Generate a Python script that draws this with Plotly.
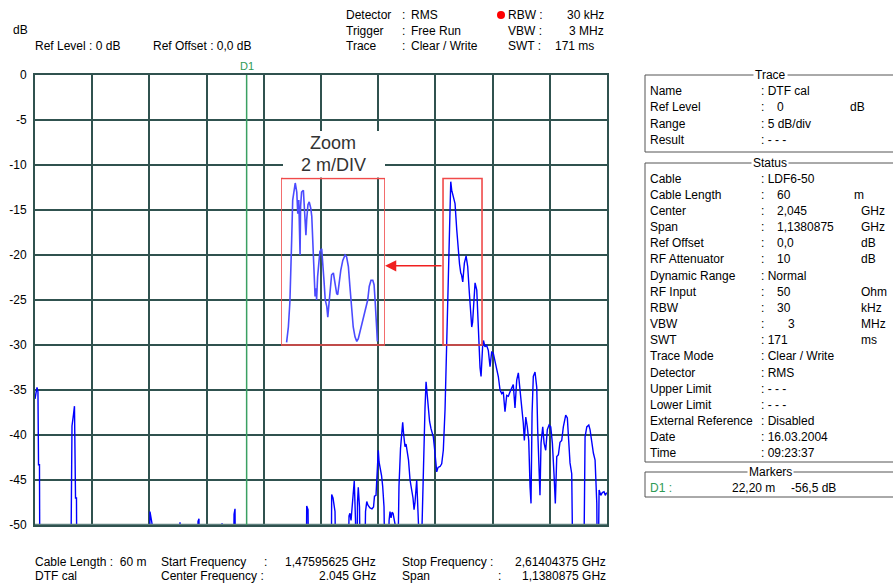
import plotly.graph_objects as go

# ---------------- data ----------------
# DTF trace: distance (m) vs. return level (dB); -60 means below the -50 dB screen floor
dist_m = [
    0.00, 0.10, 0.21, 0.31, 0.37, 0.47, 0.52,
    3.72, 3.78, 3.88, 4.04, 4.14, 4.25, 4.35, 4.41,
    12.01, 12.06, 12.17, 12.27, 12.38,
    15.11, 15.21, 15.32,
    17.00, 17.10, 17.20, 17.30,
    19.51, 19.62, 19.72,
    20.77, 20.88, 20.98, 21.08,
    28.43, 28.50, 28.64, 28.74,
    31.05, 31.12, 31.26, 31.47, 31.63,
    32.73, 32.94, 33.04, 33.15, 33.36, 33.49, 33.62, 33.72, 33.83, 33.91, 34.04, 34.17,
    34.51, 34.67, 34.80, 34.93, 35.14, 35.35, 35.51, 35.61, 35.77, 35.88, 36.01, 36.09,
    36.19, 36.35, 36.47, 36.61, 36.77,
    37.03, 37.14, 37.24, 37.35, 37.45, 37.56, 37.71, 37.87, 37.98, 38.08, 38.18, 38.34,
    38.57, 38.66, 38.81, 38.92, 39.05, 39.18, 39.34, 39.49, 39.65, 39.76, 39.86, 40.04,
    40.12, 40.23, 40.31,
    40.49, 40.60, 40.67, 40.75, 40.81, 40.91, 41.02, 41.12, 41.26, 41.39, 41.54, 41.78,
    41.91, 42.07, 42.14, 42.28, 42.49, 42.66, 42.83, 43.01, 43.11, 43.22, 43.35, 43.46,
    43.53, 43.61, 43.71, 43.80, 43.88, 44.06, 44.24, 44.41, 44.53, 44.66, 44.74, 44.87,
    44.95, 45.04, 45.22, 45.39, 45.56, 45.71, 45.81, 45.90, 45.98, 46.16, 46.34, 46.42,
    46.51, 46.61, 46.68, 46.79, 46.89, 46.96, 47.04, 47.20, 47.36, 47.55, 47.73, 47.90,
    48.07, 48.19, 48.36, 48.60, 48.78, 48.96, 49.12, 49.30, 49.48, 49.65, 49.83, 50.01,
    50.17, 50.35, 50.53, 50.70, 50.88, 51.06, 51.22, 51.33, 51.48, 51.64, 51.79, 51.93,
    52.03, 52.14, 52.27, 52.45, 52.63, 52.73, 52.87, 52.97, 53.08, 53.26, 53.40, 53.57,
    53.74, 53.92, 54.10, 54.27, 54.44, 54.58, 54.73, 54.90, 55.07, 55.25, 55.42, 55.67,
    55.84, 55.99, 56.12, 56.30, 56.47,
    57.52, 57.70, 57.88, 58.09, 58.22, 58.40, 58.57, 58.75, 58.93, 59.03, 59.17, 59.35,
    59.51, 59.69, 59.82, 59.97,
]
level_db = [
    -36, -35.5, -34.7, -35.2, -43.3, -43.3, -60,
    -60, -46, -39, -37.7, -36.8, -47, -47, -60,
    -60, -48.5, -49, -49.8, -60,
    -60, -49.7, -60,
    -60, -49.6, -49.3, -60,
    -60, -49.8, -60,
    -60, -48.8, -48.2, -60,
    -60, -47.9, -48.3, -60,
    -60, -46.6, -47.0, -48.5, -60,
    -60, -49.0, -48.7, -49.5, -47.0, -45.1, -49.5, -60, -47.5, -45.8, -48, -60,
    -60, -48.5, -47.4, -47.8, -48.1, -48.2, -48.0, -46.8, -46.7, -43.5, -41.7, -43.0,
    -43.5, -44.5, -45.7, -48, -60,
    -60, -49.5, -48.5, -49.2, -48.6, -48.7, -49.8, -50.5, -60, -50, -45.7, -41.5,
    -38.6, -39.8, -41.3, -41.0, -41.7, -42.8, -45, -46, -47, -48.3, -47.5, -45,
    -46.5, -50, -60,
    -60, -50, -47.2, -44, -38.7, -37.0, -34.1, -35.5, -37.6, -38.5, -39.3, -40.2,
    -41.5, -43.8, -44.1, -43.6, -43.5, -43.2, -41.7, -37.2, -32.4, -27, -21.7, -15.4,
    -12, -11.85, -12.8, -13.2, -13.5, -14.3, -17.2, -19.8, -21.0, -22, -22.2, -23,
    -22.2, -20.9, -20.1, -21.3, -24.2, -26.5, -28, -27.5, -26.1, -23.1, -23.9, -26,
    -29.1, -31.7, -32.5, -33.5, -31, -30, -29.5, -30.2, -30.0, -30.6, -32.4, -30.8,
    -30.9, -31.5, -32.4, -33.5, -35, -35.4, -35.2, -37.4, -35.6, -35.7, -35.2, -34.8,
    -34.4, -37, -33.9, -33.1, -34.8, -36.9, -38.7, -40.6, -38, -39.1, -40.6, -45.8,
    -47.6, -37.6, -33.5, -33, -34.7, -39.4, -44.3, -46.7, -40.9, -39.1, -40.9, -41.7,
    -39.4, -38.9, -39.1, -40.9, -44.3, -47.6, -42.4, -42.2, -40.8, -40.6, -39.1, -37.8,
    -38.1, -40.2, -43.1, -44.3, -60,
    -60, -40.2, -39.1, -38.9, -39.4, -40.9, -42, -42.8, -47.6, -60, -46.1, -46.7,
    -46.4, -46.3, -46.7, -46.4,
]

# Zoomed view (2 m/DIV) of the 42.8 m .. 46.9 m section
zoom_dist_m = [
    43.02, 43.09, 43.15, 43.19, 43.22, 43.26, 43.31, 43.36, 43.42, 43.46, 43.50, 43.52,
    43.55, 43.57, 43.61, 43.68, 43.72, 43.76, 43.78, 43.81, 43.86, 43.91, 43.97, 44.01,
    44.05, 44.09, 44.11, 44.14, 44.18, 44.20, 44.24, 44.29, 44.33, 44.40, 44.44, 44.49,
    44.54, 44.60, 44.64, 44.69, 44.73, 44.79, 44.86, 44.92, 44.99, 45.03, 45.07, 45.15,
    45.23, 45.32, 45.38, 45.45, 45.51, 45.58, 45.64, 45.71, 45.78, 45.84, 45.91, 45.97,
    46.06, 46.14, 46.21, 46.27, 46.34, 46.41, 46.46, 46.50, 46.54, 46.56, 46.59,
]
zoom_level_db = [
    -29.7, -28, -25.2, -22.4, -18.3, -13.9, -12.6, -12.0, -13, -15.4, -13.9, -16.5,
    -20, -14.6, -13, -12.8, -15, -16.9, -17.8, -16.1, -14.4, -14.1, -14.8, -15.7,
    -18.7, -19.8, -21.7, -24.6, -23.7, -25, -22.4, -20.9, -19.6, -19.3, -20.6, -22.8,
    -25, -25.7, -26.9, -25.2, -23.9, -22.2, -22, -23.1, -24.3, -24.4, -23.3, -21.7,
    -20.6, -20, -20.2, -21.3, -23.5, -26.1, -28, -29.1, -29.6, -29.3, -28.5, -27.6,
    -26.5, -25.7, -25, -23.5, -22.8, -22.8, -23.3, -25, -26.5, -28, -29.6,
]
assert len(dist_m) == len(level_db)
assert len(zoom_dist_m) == len(zoom_level_db)

zoom_range_m = [42.80, 46.89]
zoom_range_db = [-30, -11.5]
marker_d1_m = 22.2
arrow_level_db = -21.2

y_ticks = [0, -5, -10, -15, -20, -25, -30, -35, -40, -45, -50]
y_ticktext = ["0", "-5", "-10", "-15", "-20", "-25", "-30", "-35", "-40", "-45", "-50"]

header_left = ["Ref Level : 0 dB", "Ref Offset : 0,0 dB"]
header_mid_labels = ["Detector", "Trigger", "Trace"]
header_mid_values = ["RMS", "Free Run", "Clear / Write"]
header_right_labels = ["RBW :", "VBW :", "SWT :"]
header_right_values = ["30 kHz", "3 MHz", "171 ms"]

trace_rows = [("Name", ": DTF cal", "", ""), ("Ref Level", ":", "0", "dB"),
              ("Range", ": 5 dB/div", "", ""), ("Result", ": - - -", "", "")]
status_rows = [
    ("Cable", ": LDF6-50", "", ""), ("Cable Length", ":", "60", "m"),
    ("Center", ":", "2,045", "GHz"), ("Span", ":", "1,1380875", "GHz"),
    ("Ref Offset", ":", "0,0", "dB"), ("RF Attenuator", ":", "10", "dB"),
    ("Dynamic Range", ": Normal", "", ""), ("RF Input", ":", "50", "Ohm"),
    ("RBW", ":", "30", "kHz"), ("VBW", ":", "3", "MHz"),
    ("SWT", ": 171", "", "ms"), ("Trace Mode", ": Clear / Write", "", ""),
    ("Detector", ": RMS", "", ""), ("Upper Limit", ": - - -", "", ""),
    ("Lower Limit", ": - - -", "", ""), ("External Reference", ": Disabled", "", ""),
    ("Date", ": 16.03.2004", "", ""), ("Time", ": 09:23:37", "", ""),
]
marker_row = ("D1 :", "22,20 m", "-56,5 dB")

footer_row1 = ["Cable Length :  60 m", "Start Frequency", ":", "1,47595625 GHz",
               "Stop Frequency :", "2,61404375 GHz"]
footer_row2 = ["DTF cal", "Center Frequency :", "", "2.045 GHz", "Span", ":",
               "1,1380875 GHz"]

# ---------------- layout helpers ----------------
W, H = 893, 583
L, R, T, B = 35, 286, 75, 58
PW, PH = W - L - R, H - T - B
FONT = "Liberation Sans, Arial, sans-serif"
GRID = "#30524f"


def fx(px):
    return (px - L) / PW


def fy(py):
    return (H - B - py) / PH


annotations = []
shapes = []


def txt(s, px, py, anchor="left", color="black", size=12, **kw):
    annotations.append(dict(text=s, x=fx(px), y=fy(py), xref="paper", yref="paper",
                            xanchor=anchor, yanchor="middle", showarrow=False,
                            font=dict(family=FONT, size=size, color=color), **kw))


def prect(x0, y0, x1, y1, color="#555555", width=1, fill="rgba(0,0,0,0)", layer="above"):
    shapes.append(dict(type="rect", xref="paper", yref="paper", x0=fx(x0), x1=fx(x1),
                       y0=fy(y1), y1=fy(y0), line=dict(color=color, width=width),
                       fillcolor=fill, layer=layer))


fig = go.Figure()

fig.add_trace(go.Scatter(x=dist_m, y=level_db, mode="lines",
                         line=dict(color="#0000ff", width=1.4), hoverinfo="skip",
                         showlegend=False))
fig.add_trace(go.Scatter(x=zoom_dist_m, y=zoom_level_db, mode="lines", xaxis="x2", yaxis="y2",
                         line=dict(color="#4b4bff", width=1.6), hoverinfo="skip",
                         showlegend=False))
# marker D1 symbol and end-of-span triangle
fig.add_trace(go.Scatter(x=[marker_d1_m], y=[0.4], mode="markers", cliponaxis=False,
                         marker=dict(symbol="triangle-down", size=6, color="#2e9a55"),
                         hoverinfo="skip", showlegend=False))
fig.add_trace(go.Scatter(x=[60], y=[-50.25], mode="markers", cliponaxis=False,
                         marker=dict(symbol="triangle-up", size=10, color="#0000ff"),
                         hoverinfo="skip", showlegend=False))

# bottom line
shapes.append(dict(type="line", xref="x", yref="y", x0=0, x1=60, y0=-50, y1=-50,
                   line=dict(color="#5f817e", width=2.5), layer="above"))
# D1 marker line
shapes.append(dict(type="line", xref="x", yref="y", x0=marker_d1_m, x1=marker_d1_m,
                   y0=-50, y1=0, line=dict(color="#3aa062", width=1.5), layer="above"))
# zoom boxes
for xr in ("x", "x2"):
    shapes.append(dict(type="rect", xref=xr, yref="y", x0=zoom_range_m[0], x1=zoom_range_m[1],
                       y0=zoom_range_db[0], y1=zoom_range_db[1],
                       line=dict(color="#f04a4a", width=1.6), layer="above"))
# white label background
prect(283, 131, 385, 177.5, color="rgba(0,0,0,0)", width=0, fill="white")
txt("Zoom", 333, 143, anchor="center", color="#333333", size=18)
txt("2 m/DIV", 333, 165, anchor="center", color="#333333", size=18)

# arrow from the zoomed section to the zoom box
annotations.append(dict(x=36.72, y=arrow_level_db, ax=zoom_range_m[0], ay=arrow_level_db,
                        xref="x", yref="y", axref="x", ayref="y", text="", showarrow=True,
                        arrowhead=2, arrowsize=1.4, arrowwidth=1.6, arrowcolor="#f02020"))

# D1 label
txt("D1", 247, 66, anchor="center", color="#2e9a55", size=11)

# header
txt("dB", 11, 30)
txt(header_left[0], 33, 46)
txt(header_left[1], 151, 46)
for i, (lab, val) in enumerate(zip(header_mid_labels, header_mid_values)):
    py = 15 + 15.5 * i
    txt(lab, 344, py)
    txt(":", 400, py)
    txt(val, 409, py)
shapes.append(dict(type="circle", xref="paper", yref="paper", x0=fx(497), x1=fx(505),
                   y0=fy(19), y1=fy(11), fillcolor="#ff0000", line=dict(width=0)))
for i, (lab, val) in enumerate(zip(header_right_labels, header_right_values)):
    py = 15 + 15.5 * i
    txt(lab, 506, py)
    if i < 2:
        txt(val, 606, py, anchor="right")
    else:
        txt(val, 553, py)

# right panel boxes
prect(645, 75, 900, 152)
txt("Trace", 770, 75, anchor="center", bgcolor="white", borderpad=1)
for i, (a, b, c, d) in enumerate(trace_rows):
    py = 91 + 16.4 * i
    txt(a, 648, py)
    txt(b, 759, py)
    if c:
        txt(c, 775, py)
    if d:
        txt(d, 848, py)

prect(645, 163, 900, 462)
txt("Status", 770, 163, anchor="center", bgcolor="white", borderpad=1)
for i, (a, b, c, d) in enumerate(status_rows):
    py = 178.5 + 16.17 * i
    txt(a, 648, py)
    txt(b, 759, py)
    if c:
        txt(c, 786 if c == "3" else 775, py)
    if d:
        txt(d, 852 if d == "m" else 859, py)

prect(645, 472, 900, 497)
txt("Markers", 770, 472, anchor="center", bgcolor="white", borderpad=1)
txt(marker_row[0], 648, 488, color="#2e9a55")
txt(marker_row[1], 730, 488)
txt(marker_row[2], 789, 488)

# footer
txt(footer_row1[0], 33, 562)
txt(footer_row1[1], 159, 562)
txt(footer_row1[2], 262, 562)
txt(footer_row1[3], 378, 562, anchor="right")
txt(footer_row1[4], 400, 562)
txt(footer_row1[5], 608, 562, anchor="right")
txt(footer_row2[0], 33, 576)
txt(footer_row2[1], 159, 576)
txt(footer_row2[3], 378, 576, anchor="right")
txt(footer_row2[4], 400, 576)
txt(footer_row2[5], 496, 576)
txt(footer_row2[6], 608, 576, anchor="right")

fig.update_layout(
    width=W, height=H,
    margin=dict(l=L, r=R, t=T, b=B, pad=0, autoexpand=False),
    paper_bgcolor="white",
    plot_bgcolor="rgba(0,0,0,0)",
    showlegend=False,
    font=dict(family=FONT, size=12, color="black"),
    xaxis=dict(range=[0, 60], dtick=6, showgrid=True, gridcolor=GRID, gridwidth=1.8,
               showticklabels=False, ticks="", zeroline=False, showline=True, mirror=True,
               linecolor=GRID, linewidth=1.8, fixedrange=True, automargin=False),
    yaxis=dict(range=[-50, 0], tickvals=y_ticks, ticktext=y_ticktext, showgrid=True,
               gridcolor=GRID, gridwidth=1.8, ticks="", zeroline=False, showline=True,
               mirror=True, linecolor=GRID, linewidth=1.8, ticklabelstandoff=4,
               automargin=False,
               tickfont=dict(family=FONT, size=12, color="black"), fixedrange=True),
    xaxis2=dict(domain=[fx(281), fx(385)], range=zoom_range_m, anchor="y2", visible=False,
                fixedrange=True),
    yaxis2=dict(domain=[0, 1], range=[-50, 0], anchor="x2", visible=False, fixedrange=True),
    annotations=annotations,
    shapes=shapes,
)

fig.write_html("out.html", config={"displayModeBar": False},
               post_script="document.body.style.margin='0px';")
